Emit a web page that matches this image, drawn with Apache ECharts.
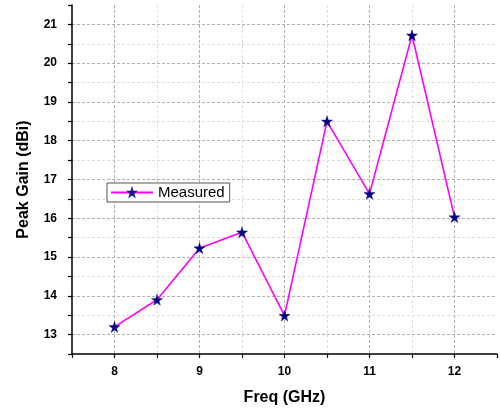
<!DOCTYPE html>
<html>
<head>
<meta charset="utf-8">
<script src="https://cdn.jsdelivr.net/npm/echarts@6/dist/echarts.min.js"></script>
<style>html,body{margin:0;padding:0;background:#fff;}#c{width:500px;height:411px;}</style>
</head>
<body>
<div id="c"></div>
<script>
const freqs = [8, 8.5, 9, 9.5, 10, 10.5, 11, 11.5, 12];
const gain = [13.2, 13.9, 15.23, 15.64, 13.49, 18.5, 16.63, 20.72, 16.03];
const seriesName = 'Measured';
const xTitle = 'Freq (GHz)';
const yTitle = 'Peak Gain (dBi)';

const star = 'path://M50,0 L61,35 L98,35 L68,57 L79,91 L50,70 L21,91 L32,57 L2,35 L39,35 Z';
const font = 'Liberation Sans, Arial, sans-serif';
const chart = echarts.init(document.getElementById('c'), null, {renderer: 'canvas'});
const intLabel = v => (Math.abs(v - Math.round(v)) < 1e-6 ? String(Math.round(v)) : '');

chart.setOption({
  animation: false,
  backgroundColor: '#fff',
  grid: {left: 72, top: 5, right: 1, bottom: 57, containLabel: false},
  legend: {
    left: 107, top: 183,
    data: [seriesName],
    itemWidth: 42, itemHeight: 8,
    padding: [2, 5, 2, 3],
    borderColor: '#555', borderWidth: 1, borderRadius: 0,
    backgroundColor: '#fff',
    textStyle: {fontFamily: font, fontSize: 15, color: '#000'}
  },
  xAxis: {
    type: 'value', min: 7.5, max: 12.5, interval: 0.5,
    name: xTitle, nameLocation: 'middle', nameGap: 36,
    nameTextStyle: {fontFamily: font, fontSize: 16, fontWeight: 'bold', color: '#000'},
    axisLine: {onZero: false, lineStyle: {color: '#000', width: 1.5}},
    axisTick: {show: true, length: 4, inside: false, lineStyle: {color: '#000', width: 1.2}},
    axisLabel: {formatter: intLabel, fontFamily: font, fontSize: 12, fontWeight: 'bold', color: '#000', margin: 12},
    splitLine: {show: true, showMinLine: false, showMaxLine: false,
      lineStyle: {color: ['#b0b0b0', '#dedede'], type: [3, 2], width: 1}}
  },
  yAxis: {
    type: 'value', min: 12.5, max: 21.5, interval: 0.5,
    name: yTitle, nameLocation: 'middle', nameGap: 40,
    nameTextStyle: {fontFamily: font, fontSize: 16, fontWeight: 'bold', color: '#000'},
    axisLine: {show: true, onZero: false, lineStyle: {color: '#000', width: 1.5}},
    axisTick: {show: true, length: 4, inside: false, lineStyle: {color: '#000', width: 1.2}},
    axisLabel: {formatter: intLabel, fontFamily: font, fontSize: 12, fontWeight: 'bold', color: '#000', margin: 15},
    splitLine: {show: true, showMinLine: false, showMaxLine: false,
      lineStyle: {color: ['#b0b0b0', '#dedede'], type: [3, 2], width: 1}}
  },
  series: [{
    name: seriesName,
    type: 'line',
    data: freqs.map((f, i) => [f, gain[i]]),
    symbol: star,
    symbolSize: 11,
    showAllSymbol: true,
    lineStyle: {color: '#ff00ff', width: 1.6},
    itemStyle: {color: '#000080', borderColor: '#1a1a90', borderWidth: 0.5},
    z: 3
  }]
});
</script>
</body>
</html>
